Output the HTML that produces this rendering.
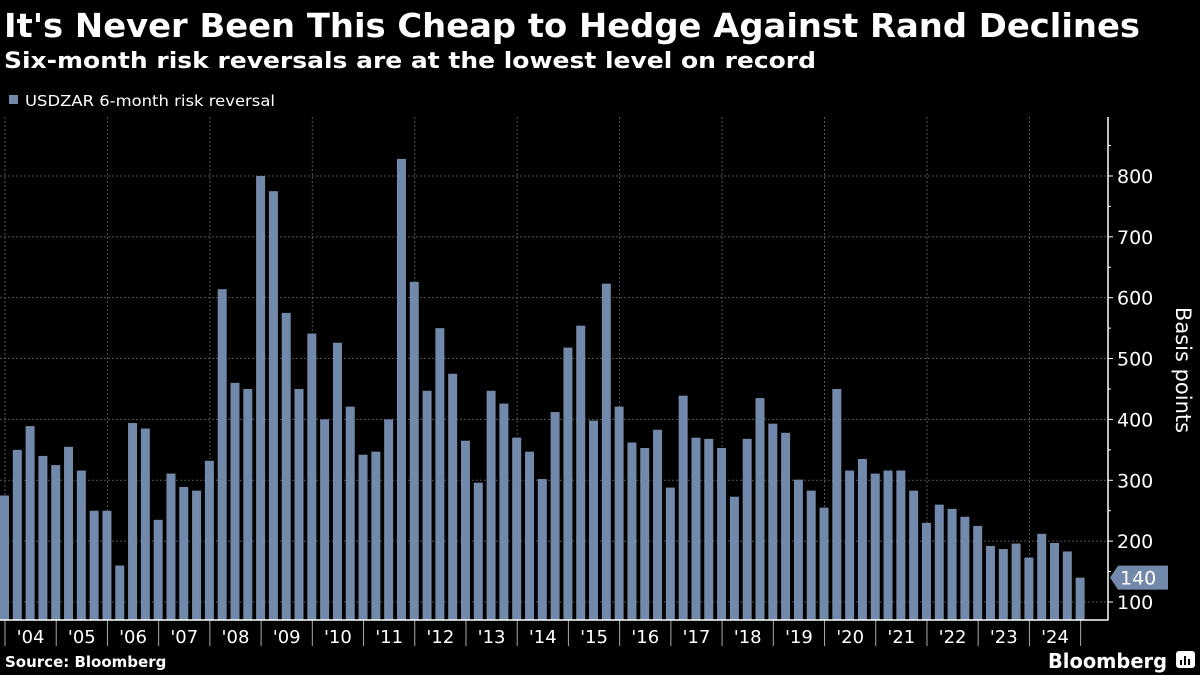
<!DOCTYPE html>
<html><head><meta charset="utf-8"><style>
html,body{margin:0;padding:0;background:#000;}
svg{display:block;}
text{font-family:"DejaVu Sans","Liberation Sans",sans-serif;fill:#fff;}
</style></head><body>
<svg id="chart" width="1200" height="675" viewBox="0 0 1200 675">
<rect width="1200" height="675" fill="#000"/>
<text x="4" y="37" font-size="33" font-weight="bold" textLength="1136" lengthAdjust="spacingAndGlyphs">It's Never Been This Cheap to Hedge Against Rand Declines</text>
<text x="4" y="68" font-size="22" font-weight="bold" textLength="812" lengthAdjust="spacingAndGlyphs">Six-month risk reversals are at the lowest level on record</text>
<rect x="9" y="95" width="9" height="9" fill="#7389ab"/>
<text x="25" y="106" font-size="15" fill="#ddd" textLength="250" lengthAdjust="spacingAndGlyphs">USDZAR 6-month risk reversal</text>
<g id="grid"></g>
<g id="bars"></g>
<g id="axes"></g>
<text transform="translate(1176,370) rotate(90)" font-size="21" text-anchor="middle" fill="#ddd">Basis points</text>
<text x="5" y="667" font-size="15" font-weight="bold">Source: Bloomberg</text>
<text x="1048" y="668" font-size="20" font-weight="bold" textLength="119" lengthAdjust="spacingAndGlyphs">Bloomberg</text>
<g>
<rect x="1176" y="651" width="19" height="17" rx="3" fill="#fff"/>
<rect x="1180" y="660" width="2" height="5" fill="#000"/><rect x="1184" y="656" width="2" height="9" fill="#000"/><rect x="1188" y="659" width="2" height="6" fill="#000"/>
</g>
</svg>
<script>
const values = [275,350,389,340,325,355,316,250,250,160,394,385,235,311,289,283,332,614,460,450,800,775,575,450,541,400,526,421,342,347,400,828,626,447,550,475,365,296,447,426,370,347,302,412,518,554,398,623,421,362,353,383,288,439,370,368,353,273,368,435,393,378,301,283,255,450,316,335,311,316,316,283,230,260,253,240,225,192,187,196,173,212,197,183,140];
const yearLabels = ["'04","'05","'06","'07","'08","'09","'10","'11","'12","'13","'14","'15","'16","'17","'18","'19","'20","'21","'22","'23","'24"];
const yTicks = [100,200,300,400,500,600,700,800];
const lastLabel = ["140"];

const NS = "http://www.w3.org/2000/svg";
const plotTop = 117, plotBottom = 620, axisX = 1108;
const yScale = v => 620 - (v - 70.4) * 0.6086;
const barX = i => 4.5 + 12.805 * i;
const tickX = k => 5 + 51.22 * k;
function mk(tag, attrs, parent){const e=document.createElementNS(NS,tag);for(const k in attrs)e.setAttribute(k,attrs[k]);parent.appendChild(e);return e;}
const grid=document.getElementById('grid'), bars=document.getElementById('bars'), axes=document.getElementById('axes');

yTicks.forEach(v=>{
  const l=mk('line',{x1:0,x2:axisX,y1:yScale(v),y2:yScale(v),stroke:'#555','stroke-dasharray':'2,2','stroke-width':1},grid);
  
  
  const t=mk('text',{x:1117,y:yScale(v)+7,'font-size':19,fill:'#ddd'},axes);
  t.textContent=v;
  
  
  const tk=mk('line',{x1:axisX,x2:axisX+5,y1:yScale(v),y2:yScale(v),stroke:'#fff'},axes);
  
  
});
for(let v=150;v<=850;v+=100){
  const tk=mk('line',{x1:axisX,x2:axisX+3,y1:yScale(v),y2:yScale(v),stroke:'#fff'},axes);
  
  
}
for(let k=0;k<=yearLabels.length;k++){
  if(k%2===0){
    const g=mk('line',{x1:tickX(k),x2:tickX(k),y1:plotTop,y2:plotBottom,stroke:'#555','stroke-dasharray':'2,2'},grid);
    
    
  }
  const tk=mk('line',{x1:tickX(k),x2:tickX(k),y1:plotBottom,y2:646,stroke:'#aaa'},axes);
  
  
}
yearLabels.forEach((s,k)=>{
  const t=mk('text',{x:tickX(k)+25.6,y:643,'font-size':18,'text-anchor':'middle',fill:'#ddd'},axes);
  t.textContent=s;
  
  
});
values.forEach((v,i)=>{
  const y=yScale(v);
  const r=mk('rect',{x:barX(i)-4.5,y:y,width:9,height:plotBottom-y,fill:'#7389ab'},bars);
  
  
});
mk('line',{x1:0,x2:axisX+0.5,y1:plotBottom,y2:plotBottom,stroke:'#fff','stroke-width':1.5},axes);
mk('line',{x1:axisX,x2:axisX,y1:plotTop,y2:plotBottom,stroke:'#fff','stroke-width':1.5},axes);
// last value callout
const lv=values[values.length-1], ly=yScale(lv);
const cg=mk('g',{},axes);


mk('polygon',{points:`${axisX+2},${ly} ${axisX+10},${ly-12} ${axisX+60},${ly-12} ${axisX+60},${ly+12} ${axisX+10},${ly+12}`,fill:'#7389ab'},cg);
const lt=mk('text',{x:axisX+12,y:ly+7,'font-size':19,fill:'#111'},cg);
lt.textContent=lastLabel[0];


</script>
</body></html>
